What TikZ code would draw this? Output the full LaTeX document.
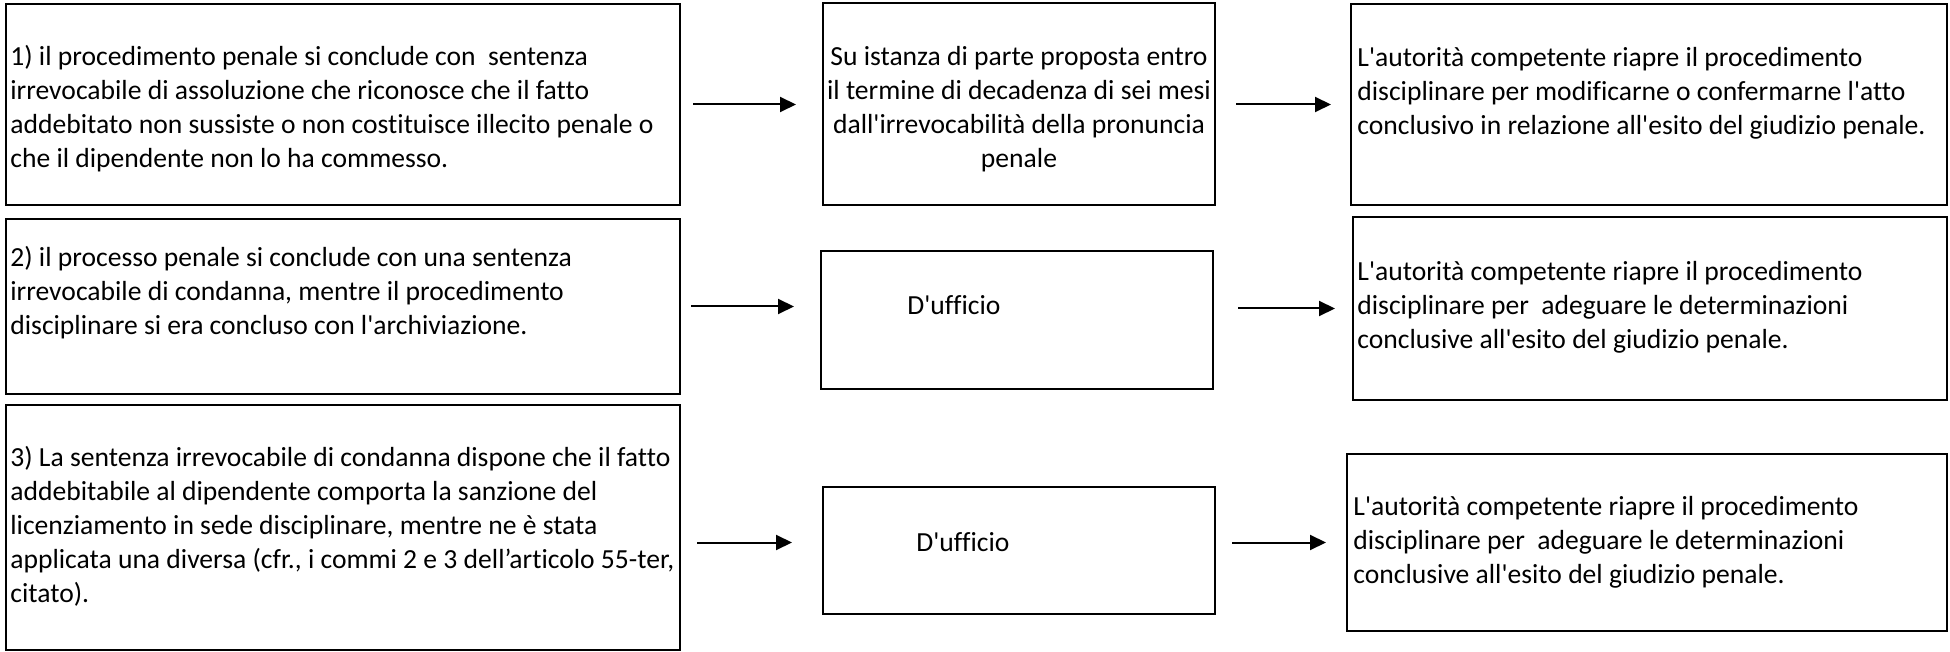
\documentclass[tikz,border=0pt]{standalone}
\usepackage{fontspec}
\setmainfont{Carlito}[Ligatures={TeXOff,NoCommon}]
\usetikzlibrary{arrows.meta}
\begin{document}
\begin{tikzpicture}
  [x=0.5pt,y=-0.5pt,
   box/.style={draw,line width=1pt,inner sep=0pt},
   txt/.style={inner sep=0pt,align=left,anchor=west,font=\fontsize{13.8}{17}\selectfont},
   tip/.style={-{Triangle[length=8pt,width=7.5pt]},line width=1pt}]
\useasboundingbox (0,0) rectangle (1950,652);

% left column
\node (l1)[box,minimum width=337pt,minimum height=100.5pt] at (343,104.5) {};
\node (l2)[box,minimum width=337pt,minimum height=87.5pt] at (343,306.5) {};
\node (l3)[box,minimum width=337pt,minimum height=122.5pt] at (343,527.5) {};
% middle column
\node (m1)[box,minimum width=196pt,minimum height=101pt] at (1019,104) {};
\node (m2)[box,minimum width=196pt,minimum height=69pt] at (1017,320) {};
\node (m3)[box,minimum width=196pt,minimum height=63.5pt] at (1019,550.5) {};
% right column
\node (r1)[box,minimum width=298pt,minimum height=100.5pt] at (1649,104.5) {};
\node (r2)[box,minimum width=297pt,minimum height=91.5pt] at (1650,308.5) {};
\node (r3)[box,minimum width=300pt,minimum height=88.5pt] at (1647,542.5) {};

\node (t1)[txt] at (10,109) {1) il procedimento penale si conclude con~ sentenza\\
  irrevocabile di assoluzione che riconosce che il fatto\\
  addebitato non sussiste o non costituisce illecito penale o\\
  che il dipendente non lo ha commesso.};
\node (t2)[txt] at (10,293) {2) il processo penale si conclude con una sentenza\\
  irrevocabile di condanna, mentre il procedimento\\
  disciplinare si era concluso con l'archiviazione.};
\node (t3)[txt] at (10,526) {3) La sentenza irrevocabile di condanna dispone che il fatto\\
  addebitabile al dipendente comporta la sanzione del\\
  licenziamento in sede disciplinare, mentre ne è stata\\
  applicata una diversa (cfr., i commi 2 e 3 dell’articolo 55-ter,\\
  citato).};

\node (t4)[txt,align=center,anchor=center] at (1019,109) {Su istanza di parte proposta entro\\
  il termine di decadenza di sei mesi\\
  dall'irrevocabilità della pronuncia\\
  penale};
\node (t5)[txt] at (907,305) {D'ufficio};
\node (t6)[txt] at (916,542) {D'ufficio};

\node (t7)[txt] at (1357,93) {L'autorità competente riapre il procedimento\\
  disciplinare per modificarne o confermarne l'atto\\
  conclusivo in relazione all'esito del giudizio penale.};
\node (t8)[txt] at (1357,307) {L'autorità competente riapre il procedimento\\
  disciplinare per~ adeguare le determinazioni\\
  conclusive all'esito del giudizio penale.};
\node (t9)[txt] at (1353,542) {L'autorità competente riapre il procedimento\\
  disciplinare per~ adeguare le determinazioni\\
  conclusive all'esito del giudizio penale.};

\path [tip] (l1.east) edge [shorten <=6pt,shorten >=13pt] (l1.east -| m1.west);
\path [tip] (m1.east |- r1.west) edge [shorten <=10pt,shorten >=9.5pt] (r1.west);

\path [tip] (l2.east) edge [shorten <=5pt,shorten >=13pt] (l2.east -| m2.west);
\path [tip] (m2.east |- r2.west) edge [shorten <=12pt,shorten >=8.5pt] (r2.west);

\path [tip] (l3.east |- r3.west) edge [shorten <=8pt,shorten >=15pt] (m3.west |- r3.west);
\path [tip] (m3.east |- r3.west) edge [shorten <=8pt,shorten >=10pt] (r3.west);
;
\end{tikzpicture}
\end{document}
